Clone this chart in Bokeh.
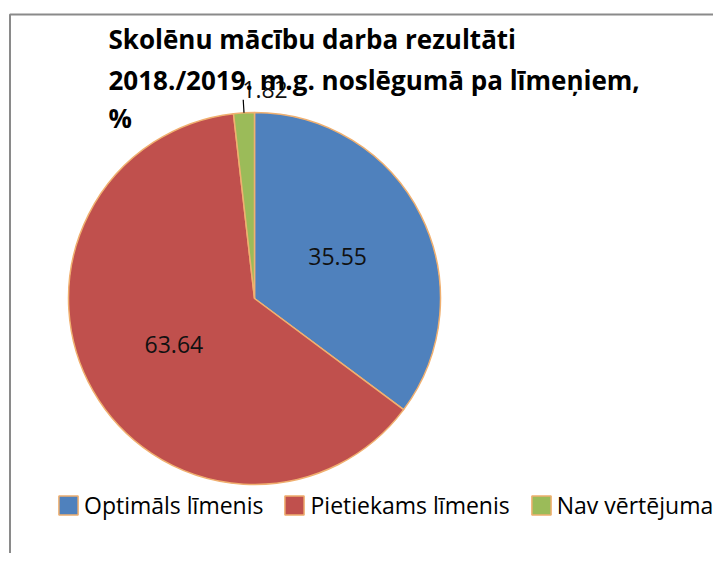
import math
from bokeh.plotting import figure
from bokeh.models import Range1d, ColumnDataSource, Legend, LegendItem
from bokeh.core.properties import value
from bokeh.embed import file_html
from bokeh.resources import INLINE

# ---- data ----
categories = ["Optimāls līmenis", "Pietiekams līmenis", "Nav vērtējuma"]
values = [35.55, 63.64, 1.82]
colors = ["#4F81BD", "#C0504D", "#9BBB59"]
title_lines = ["Skolēnu mācību darba rezultāti",
               "2018./2019. m.g. noslēgumā pa līmeņiem,",
               "%"]

# ---- layout (1 data unit = 1 pixel; y measured upward) ----
W, H = 713, 553
PAGE_H = 569
p = figure(width=W, height=H, x_range=Range1d(0, W),
           y_range=Range1d(PAGE_H - H, PAGE_H),
           output_backend="svg", toolbar_location=None, min_border=0)
p.axis.visible = False
p.xgrid.visible = False
p.ygrid.visible = False
p.outline_line_color = None
p.background_fill_color = "white"
p.border_fill_color = "white"

# chart border
p.quad(left=[9.5], right=[900], top=[PAGE_H - 14], bottom=[-100],
       fill_color=None, line_color="#8a8a8a", line_width=2)

cx, cy, R = 254, PAGE_H - 298, 186
total = sum(values)
starts, ends, mids = [], [], []
cum = 0.0
for v in values:
    a0 = cum / total
    cum += v
    a1 = cum / total
    starts.append(math.pi / 2 - 2 * math.pi * a0)
    ends.append(math.pi / 2 - 2 * math.pi * a1)
    mids.append(math.pi / 2 - 2 * math.pi * (a0 + a1) / 2)

src = ColumnDataSource(dict(start=starts, end=ends, color=colors, cat=categories))
wr = p.wedge(x=cx, y=cy, radius=R, start_angle="start", end_angle="end",
             direction="clock", fill_color="color", line_color="#F0B070",
             line_width=1.5, source=src)

# data labels
in_x, in_y, in_t = [], [], []
out_x, out_y, out_t, lx0, ly0, lx1, ly1 = [], [], [], [], [], [], []
for v, m in zip(values, mids):
    txt = f"{v:.2f}"
    if v / total >= 0.05:
        in_x.append(cx + 0.5 * R * math.cos(m))
        in_y.append(cy + 0.5 * R * math.sin(m))
        in_t.append(txt)
    else:
        x0 = cx + R * math.cos(m); y0 = cy + R * math.sin(m)
        x1 = cx + (R + 13) * math.cos(m); y1 = cy + (R + 13) * math.sin(m)
        lx0.append(x0); ly0.append(y0); lx1.append(x1); ly1.append(y1)
        out_x.append(x1 - 1); out_y.append(y1 + 10); out_t.append(txt)

p.text(x=in_x, y=in_y, text=in_t, text_align="center", text_baseline="middle",
       text_font=value("Open Sans"), text_font_size="23px", text_color="#111111")
p.segment(x0=lx0, y0=ly0, x1=lx1, y1=ly1, line_color="#000000", line_width=1.2)
p.text(x=out_x, y=out_y, text=out_t, text_align="left", text_baseline="middle",
       text_font=value("Open Sans"), text_font_size="23px", text_color="#111111")

# title
title_y = [PAGE_H - 38, PAGE_H - 79, PAGE_H - 117]
p.text(x=[108] * len(title_lines), y=title_y, text=title_lines,
       text_align="left", text_baseline="middle",
       text_font=value("Open Sans"), text_font_style="bold",
       text_font_size="26px", text_color="#000000")

legend = Legend(items=[LegendItem(label=c, renderers=[wr], index=i)
                       for i, c in enumerate(categories)],
                orientation="horizontal", location=(56, 32),
                padding=0, margin=0, spacing=19, label_standoff=4,
                glyph_width=24, glyph_height=24,
                label_text_font="Open Sans", label_text_font_size="23px",
                label_text_color="#000000",
                border_line_color=None, background_fill_alpha=0)
p.add_layout(legend)

open("out.html", "w").write(file_html(p, INLINE))
